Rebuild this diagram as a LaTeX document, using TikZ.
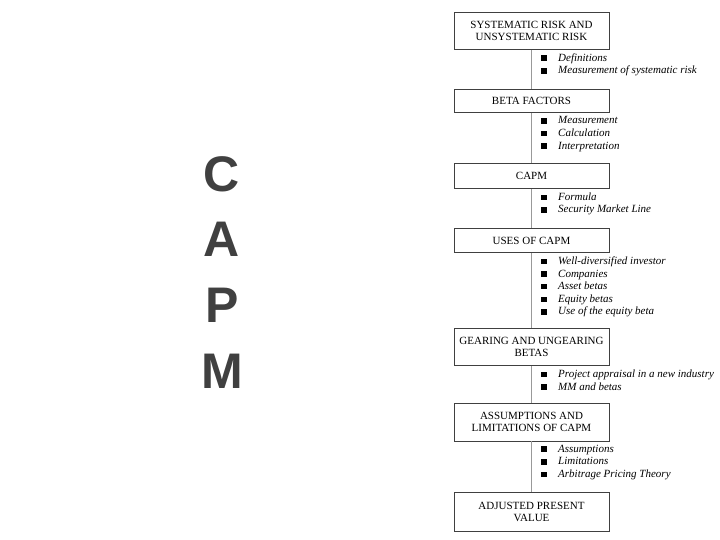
\documentclass[tikz,border=0pt]{standalone}
\usepackage{fontspec}
\setmainfont{Liberation Serif}
\newfontfamily\capsfont{Liberation Sans}
\usetikzlibrary{positioning}
\newcommand{\sqbul}{\makebox[17bp][l]{\rule[0.3bp]{5.5bp}{5.5bp}}}

\begin{document}
\begin{tikzpicture}[
    x=1bp, y=-1bp,
    topic/.style={draw=black!75,line width=0.8bp,align=center,minimum width=155bp,inner sep=2bp,
                  font=\fontsize{11bp}{12bp}\selectfont},
    pts/.style={align=left,inner sep=0pt,font=\fontsize{11bp}{12.6bp}\selectfont\itshape},
    link/.style={draw=black!40,line width=1.5bp},
    big/.style={font=\capsfont\bfseries\fontsize{50bp}{50bp}\selectfont,text=black!75,inner sep=0pt}
]
\useasboundingbox (0,0) rectangle (720,540);

% the big title letters
\foreach \ch [count=\i] in {C,A,P,M}
    \node[big] (let\i) at (222,{174+65.7*(\i-1)}) {\ch};

% topic boxes
\node[topic,minimum height=37bp,anchor=north] (sys) at (531.5,12) {SYSTEMATIC RISK AND\\UNSYSTEMATIC RISK};
\node[topic,minimum height=23bp,below=39.3bp of sys] (beta) {BETA FACTORS};
\node[topic,minimum height=25bp,below=50.3bp of beta] (capm) {CAPM};
\node[topic,minimum height=24bp,below=39.3bp of capm] (uses) {USES OF CAPM};
\node[topic,minimum height=37bp,below=75.3bp of uses] (gear) {GEARING AND UNGEARING\\BETAS};
\node[topic,minimum height=38bp,below=36.3bp of gear] (lim) {ASSUMPTIONS AND\\LIMITATIONS OF CAPM};
\node[topic,minimum height=39bp,below=50.3bp of lim] (apv) {ADJUSTED PRESENT\\VALUE};

\draw[link] (sys) -- (beta);
\draw[link] (beta) -- (capm);
\draw[link] (capm) -- (uses);
\draw[link] (uses) -- (gear);
\draw[link] (gear) -- (lim);
\draw[link] (lim) -- (apv);

% bullet lists
\node[pts,below right=3.5bp and 9.5bp of sys.south] (sys-l) {\sqbul Definitions\\\sqbul Measurement of systematic risk};
\node[pts,below right=3.5bp and 9.5bp of beta.south] (beta-l) {\sqbul Measurement\\\sqbul Calculation\\\sqbul Interpretation};
\node[pts,below right=3.5bp and 9.5bp of capm.south] (capm-l) {\sqbul Formula\\\sqbul Security Market Line};
\node[pts,below right=3.5bp and 9.5bp of uses.south] (uses-l) {\sqbul Well-diversified investor\\\sqbul Companies\\\sqbul Asset betas\\\sqbul Equity betas\\\sqbul Use of the equity beta};
\node[pts,below right=3.5bp and 9.5bp of gear.south] (gear-l) {\sqbul Project appraisal in a new industry\\\sqbul MM and betas};
\node[pts,below right=3.5bp and 9.5bp of lim.south] (lim-l) {\sqbul Assumptions\\\sqbul Limitations\\\sqbul Arbitrage Pricing Theory};
\end{tikzpicture}
\end{document}
